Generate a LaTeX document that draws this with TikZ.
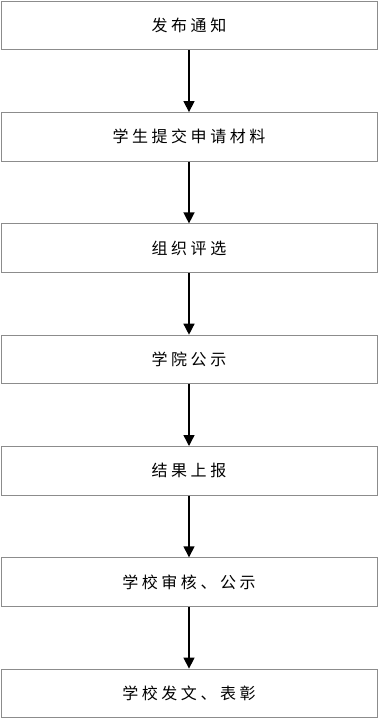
\documentclass[tikz,border=0pt]{standalone}
\usepackage{fontspec}
\newfontfamily\cjk[LetterSpace=22]{Noto Sans CJK SC}
\usetikzlibrary{arrows.meta}
\definecolor{boxgray}{HTML}{8C8C8C}
\tikzset{
  stepbox/.style={draw=boxgray,line width=1pt,minimum width=376pt,minimum height=48.5pt,inner sep=0pt,font=\cjk\fontsize{16pt}{18pt}\selectfont,anchor=north},
  flowarrow/.style={draw=black,line width=1.4pt,-{Triangle[width=11pt,length=11pt]}}
}
\begin{document}
\begin{tikzpicture}[x=1pt,y=-1pt]
\useasboundingbox (0,0) rectangle (378,718);
\node[stepbox] (b1) at (189,0.8) {发布通知};
\node[stepbox] (b2) at (189,112.1) {学生提交申请材料};
\node[stepbox] (b3) at (189,223.4) {组织评选};
\node[stepbox] (b4) at (189,334.7) {学院公示};
\node[stepbox] (b5) at (189,446.0) {结果上报};
\node[stepbox] (b6) at (189,557.3) {学校审核、公示};
\node[stepbox] (b7) at (189,668.6) {学校发文、表彰};
\foreach \a/\b in {b1/b2,b2/b3,b3/b4,b4/b5,b5/b6,b6/b7}
  \draw[flowarrow] (\a.south) -- (\b.north);
\end{tikzpicture}
\end{document}
